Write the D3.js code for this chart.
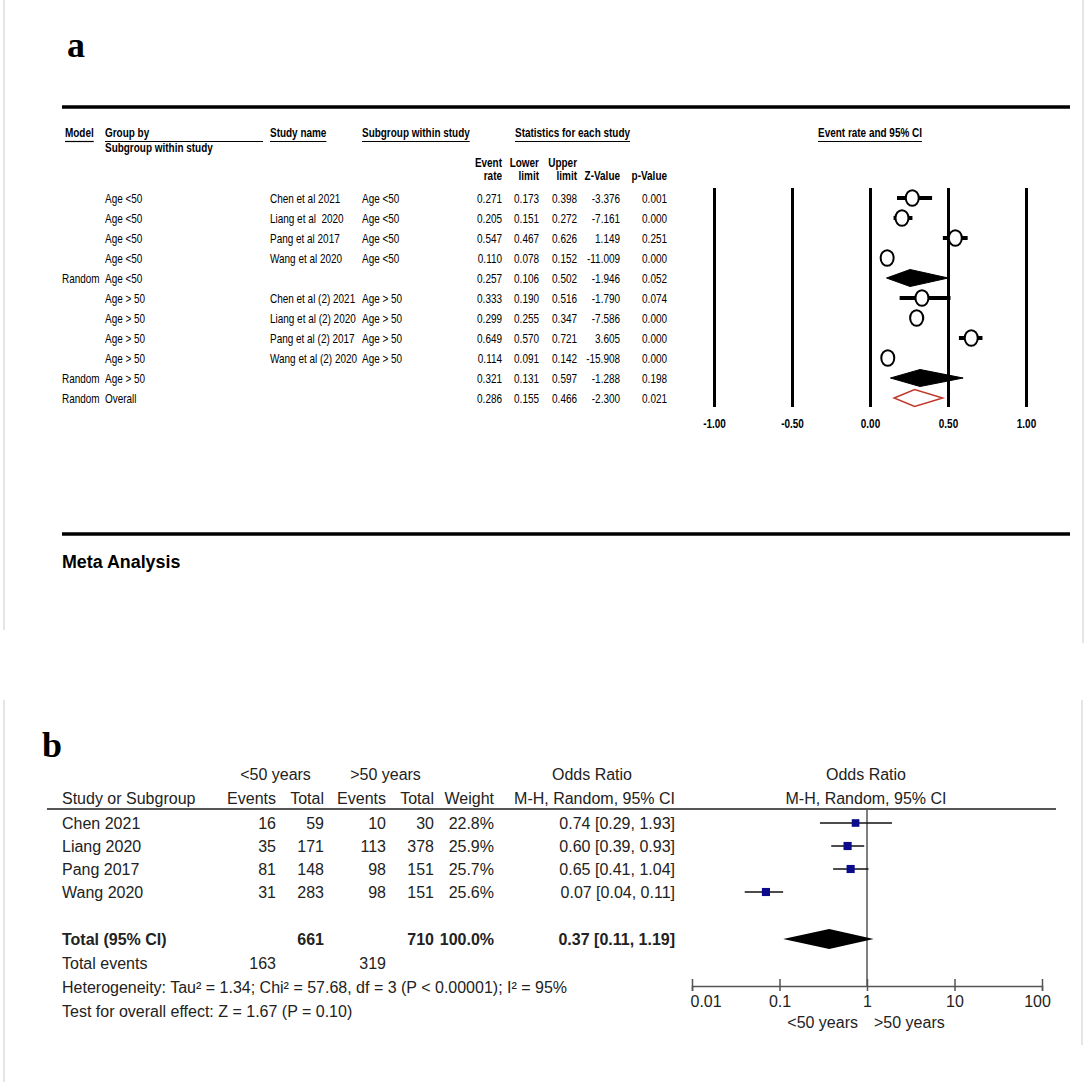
<!DOCTYPE html>
<html><head><meta charset="utf-8">
<script src="https://cdn.jsdelivr.net/npm/d3@7"></script>
<style>html,body{margin:0;padding:0;background:#fff;} svg{display:block;} text{white-space:pre;}</style>
</head><body>
<svg id="chart" width="1086" height="1082"></svg>
<script>
// ---------- Panel a data ----------
const aModel    = ["", "", "", "", "Random", "", "", "", "", "Random", "Random"];
const aGroup    = ["Age <50","Age <50","Age <50","Age <50","Age <50","Age > 50","Age > 50","Age > 50","Age > 50","Age > 50","Overall"];
const aStudy    = ["Chen et al 2021","Liang et al  2020","Pang et al 2017","Wang et al 2020","","Chen et al (2) 2021","Liang et al (2) 2020","Pang et al (2) 2017","Wang et al (2) 2020","",""];
const aSubgroup = ["Age <50","Age <50","Age <50","Age <50","","Age > 50","Age > 50","Age > 50","Age > 50","",""];
const aRate  = [0.271,0.205,0.547,0.110,0.257,0.333,0.299,0.649,0.114,0.321,0.286];
const aLower = [0.173,0.151,0.467,0.078,0.106,0.190,0.255,0.570,0.091,0.131,0.155];
const aUpper = [0.398,0.272,0.626,0.152,0.502,0.516,0.347,0.721,0.142,0.597,0.466];
const aZ     = ["-3.376","-7.161","1.149","-11.009","-1.946","-1.790","-7.586","3.605","-15.908","-1.288","-2.300"];
const aP     = ["0.001","0.000","0.251","0.000","0.052","0.074","0.000","0.000","0.000","0.198","0.021"];
const aKind  = ["study","study","study","study","subtotal","study","study","study","study","subtotal","overall"];
const aTicks = [-1, -0.5, 0, 0.5, 1];
const aColTop    = ["Event","Lower","Upper","",""];
const aColBottom = ["rate","limit","limit","Z-Value","p-Value"];

// ---------- Panel b data ----------
const bStudies = ["Chen 2021","Liang 2020","Pang 2017","Wang 2020"];
const bEvents1 = [16, 35, 81, 31];
const bTotal1  = [59, 171, 148, 283];
const bEvents2 = [10, 113, 98, 98];
const bTotal2  = [30, 378, 151, 151];
const bWeight  = [22.8, 25.9, 25.7, 25.6];
const bOR = [0.74, 0.60, 0.65, 0.07];
const bLo = [0.29, 0.39, 0.41, 0.04];
const bHi = [1.93, 0.93, 1.04, 0.11];
const bPooled = [0.37, 0.11, 1.19];
const bTotals = [661, 710];
const bTotalEvents = [163, 319];
const bTicks = [0.01, 0.1, 1, 10, 100];

// ---------- fonts ----------
const FA = "'Liberation Sans', Arial, sans-serif";
const szA = 12, SX = 0.83;          // condensed look for panel a
const FB = "'Liberation Sans', Arial, sans-serif";
const FS = "'Liberation Serif', 'Times New Roman', serif";

const svg = d3.select('#chart');

// ---------- frames ----------
const frame = svg.append('g').attr('stroke','#dcdcdc').attr('stroke-width',1.5);
frame.append('line').attr('x1',4).attr('x2',4).attr('y1',0).attr('y2',630);
frame.append('line').attr('x1',1083).attr('x2',1083).attr('y1',0).attr('y2',643);
frame.append('line').attr('x1',4).attr('x2',4).attr('y1',700).attr('y2',1082);
frame.append('line').attr('x1',1082).attr('x2',1082).attr('y1',700).attr('y2',1045);

// ================= Panel a =================
const A = svg.append('g');
A.append('text').attr('x',67).attr('y',57).attr('font-family',FS).attr('font-weight','bold')
  .attr('font-size',36).text('a');
A.append('line').attr('x1',62).attr('x2',1070).attr('y1',107).attr('y2',107).attr('stroke','#000').attr('stroke-width',3.5);
A.append('line').attr('x1',62).attr('x2',1070).attr('y1',534).attr('y2',534).attr('stroke','#000').attr('stroke-width',3.5);

// condensed text helper
function ctext(g, x, y, txt, opt){
  opt = opt || {};
  const t = g.append('text').attr('transform','translate('+x+','+y+') scale('+(opt.sx||SX)+',1)')
    .attr('font-family',FA).attr('font-size',opt.size||szA)
    .attr('font-weight',opt.bold?'bold':'normal')
    .attr('text-anchor',opt.anchor||'start').attr('fill','#000').text(txt);
  return t;
}
ctext(A, 62, 568, 'Meta Analysis', {bold:true, size:19, sx:0.94});

function hdr(x, y, txt, anchor, ul){
  const t = ctext(A, x, y, txt, {bold:true, anchor:anchor});
  if (ul !== false) {
    const w = t.node().getComputedTextLength() * SX;
    let x0 = x, x1 = x + w;
    if (anchor === 'middle') { x0 = x - w/2; x1 = x + w/2; }
    if (Array.isArray(ul)) { x0 = ul[0]; x1 = ul[1]; }
    A.append('line').attr('x1',x0).attr('x2',x1).attr('y1',y+4.5).attr('y2',y+4.5)
      .attr('stroke','#000').attr('stroke-width',1.2);
  }
  return t;
}
hdr(65, 137, 'Model');
hdr(105, 137, 'Group by', 'start', [105, 263]);
hdr(105, 152, 'Subgroup within study', 'start', false);
hdr(270, 137, 'Study name');
hdr(362, 137, 'Subgroup within study');
hdr(515, 137, 'Statistics for each study');
hdr(870, 137, 'Event rate and 95% CI', 'middle');

const colR = [502, 539, 577, 620, 667];
aColTop.forEach((t,i)=>{ if(t) hdr(colR[i], 167, t, 'end', false); });
aColBottom.forEach((t,i)=>{ hdr(colR[i], 180, t, 'end', false); });

const yA = d3.scaleLinear().domain([0, aRate.length-1]).range([198, 398]);
const rowsA = A.append('g');
aRate.forEach((v,i)=>{
  const y = yA(i) + 5;
  if (aModel[i]) ctext(rowsA, 62, y, aModel[i]);
  ctext(rowsA, 105, y, aGroup[i]);
  if (aStudy[i]) ctext(rowsA, 270, y, aStudy[i]);
  if (aSubgroup[i]) ctext(rowsA, 362, y, aSubgroup[i]);
  const vals = [aRate[i].toFixed(3), aLower[i].toFixed(3), aUpper[i].toFixed(3), aZ[i], aP[i]];
  vals.forEach((s,j)=> ctext(rowsA, colR[j], y, s, {anchor:'end'}));
});

// forest a
const xA = d3.scaleLinear().domain([-1, 1]).range([714, 1026]);
const axA = A.append('g').attr('transform','translate(0,188)')
  .call(d3.axisBottom(xA).tickValues(aTicks).tickSize(219).tickPadding(12).tickFormat(d => d.toFixed(2)));
axA.select('.domain').remove();
axA.selectAll('.tick line').attr('stroke','#000').attr('stroke-width',3);
axA.selectAll('.tick text').attr('font-family',FA).attr('font-weight','bold').attr('font-size',szA)
  .attr('fill','#000').attr('transform','scale('+SX+',1)');

const fA = A.append('g');
aRate.forEach((v,i)=>{
  const y = yA(i);
  if (aKind[i] === 'study') {
    fA.append('line').attr('x1',xA(aLower[i])).attr('x2',xA(aUpper[i])).attr('y1',y).attr('y2',y)
      .attr('stroke','#000').attr('stroke-width',4);
    fA.append('ellipse').attr('cx',xA(v)).attr('cy',y).attr('rx',6.5).attr('ry',7.8)
      .attr('fill','#fff').attr('stroke','#000').attr('stroke-width',2);
  } else {
    const pts = [[xA(aLower[i]),y],[xA(v),y-8.5],[xA(aUpper[i]),y],[xA(v),y+8.5]];
    const p = fA.append('path').attr('d', d3.line()(pts) + 'Z');
    if (aKind[i] === 'subtotal') p.attr('fill','#000').attr('stroke','#000').attr('stroke-width',1);
    else p.attr('fill','#fff').attr('stroke','#c0392b').attr('stroke-width',1.5);
  }
});

// ================= Panel b =================
const B = svg.append('g').attr('font-family',FB).attr('font-size',16).attr('fill','#222');
B.append('text').attr('x',42).attr('y',757).attr('font-family',FS).attr('font-weight','bold')
  .attr('font-size',36).attr('fill','#000').text('b');

const cR = {e1:276, t1:324, e2:386, t2:434, w:494, ci:675};
const h1 = 780, h2 = 804;
B.append('text').attr('x',(227+cR.t1)/2).attr('y',h1).attr('text-anchor','middle').text('<50 years');
B.append('text').attr('x',(337+cR.t2)/2).attr('y',h1).attr('text-anchor','middle').text('>50 years');
B.append('text').attr('x',592).attr('y',h1).attr('text-anchor','middle').text('Odds Ratio');
B.append('text').attr('x',866).attr('y',h1).attr('text-anchor','middle').text('Odds Ratio');
B.append('text').attr('x',62).attr('y',h2).text('Study or Subgroup');
[['Events',cR.e1],['Total',cR.t1],['Events',cR.e2],['Total',cR.t2],['Weight',cR.w],['M-H, Random, 95% CI',cR.ci]]
  .forEach(([t,x])=> B.append('text').attr('x',x).attr('y',h2).attr('text-anchor','end').text(t));
B.append('text').attr('x',866).attr('y',h2).attr('text-anchor','middle').text('M-H, Random, 95% CI');
B.append('line').attr('x1',47).attr('x2',1056).attr('y1',809).attr('y2',809).attr('stroke','#555').attr('stroke-width',2);

const yB = d3.scaleLinear().domain([0, bStudies.length-1]).range([823, 892]);
const f2 = d3.format('.2f');
const yTot = 939, yTE = 963, yHet = 987, yTest = 1011;
bStudies.forEach((s,i)=>{
  const y = yB(i) + 6;
  B.append('text').attr('x',62).attr('y',y).text(s);
  [[bEvents1[i],cR.e1],[bTotal1[i],cR.t1],[bEvents2[i],cR.e2],[bTotal2[i],cR.t2],[bWeight[i].toFixed(1)+'%',cR.w],
   [f2(bOR[i])+' ['+f2(bLo[i])+', '+f2(bHi[i])+']',cR.ci]]
   .forEach(([t,x])=> B.append('text').attr('x',x).attr('y',y).attr('text-anchor','end').text(t));
});
const tot = B.append('g').attr('font-weight','bold');
tot.append('text').attr('x',62).attr('y',yTot+6).text('Total (95% CI)');
tot.append('text').attr('x',cR.t1).attr('y',yTot+6).attr('text-anchor','end').text(bTotals[0]);
tot.append('text').attr('x',cR.t2).attr('y',yTot+6).attr('text-anchor','end').text(bTotals[1]);
tot.append('text').attr('x',cR.w).attr('y',yTot+6).attr('text-anchor','end').text('100.0%');
tot.append('text').attr('x',cR.ci).attr('y',yTot+6).attr('text-anchor','end')
  .text(f2(bPooled[0])+' ['+f2(bPooled[1])+', '+f2(bPooled[2])+']');
B.append('text').attr('x',62).attr('y',yTE+6).text('Total events');
B.append('text').attr('x',cR.e1).attr('y',yTE+6).attr('text-anchor','end').text(bTotalEvents[0]);
B.append('text').attr('x',cR.e2).attr('y',yTE+6).attr('text-anchor','end').text(bTotalEvents[1]);
B.append('text').attr('x',62).attr('y',yHet+6).text('Heterogeneity: Tau\u00B2 = 1.34; Chi\u00B2 = 57.68, df = 3 (P < 0.00001); I\u00B2 = 95%');
B.append('text').attr('x',62).attr('y',yTest+6).text('Test for overall effect: Z = 1.67 (P = 0.10)');

// forest b
const xB = d3.scaleLog().domain([0.01, 100]).range([692, 1042]);
const axisY = 986;
B.append('line').attr('x1',xB(1)).attr('x2',xB(1)).attr('y1',809).attr('y2',axisY)
  .attr('stroke','#555').attr('stroke-width',1.5);
const axB = B.append('g').attr('transform','translate(0,'+axisY+')')
  .call(d3.axisBottom(xB).tickValues(bTicks).tickSizeOuter(0).tickSize(5).tickPadding(5)
    .tickFormat(d => String(d)));
axB.select('.domain').attr('stroke','#555').attr('stroke-width',1.5);
axB.selectAll('.tick line').attr('stroke','#555').attr('stroke-width',1.5).attr('y1',-7).attr('y2',5);
axB.selectAll('.tick text').attr('font-family',FB).attr('font-size',16).attr('fill','#222');
axB.selectAll('.tick text').filter(d => d === 0.01).attr('text-anchor','start').attr('dx',-2);
axB.selectAll('.tick text').filter(d => d === 100).attr('dx',-5);
B.append('text').attr('x',xB(1)-9).attr('y',1028).attr('text-anchor','end').text('<50 years');
B.append('text').attr('x',xB(1)+7).attr('y',1028).attr('text-anchor','start').text('>50 years');

bOR.forEach((v,i)=>{
  const y = yB(i);
  B.append('line').attr('x1',xB(bLo[i])).attr('x2',xB(bHi[i])).attr('y1',y).attr('y2',y)
    .attr('stroke','#111').attr('stroke-width',1.5);
  const s = Math.sqrt(bWeight[i]) * 1.6;
  B.append('rect').attr('x',xB(v)-s/2).attr('y',y-s/2).attr('width',s).attr('height',s).attr('fill','#0b0b8c');
});
const dpts = [[xB(bPooled[1]),yTot],[xB(bPooled[0]),yTot-10],[xB(bPooled[2]),yTot],[xB(bPooled[0]),yTot+10]];
B.append('path').attr('d', d3.line()(dpts)+'Z').attr('fill','#000');
</script>
</body></html>
